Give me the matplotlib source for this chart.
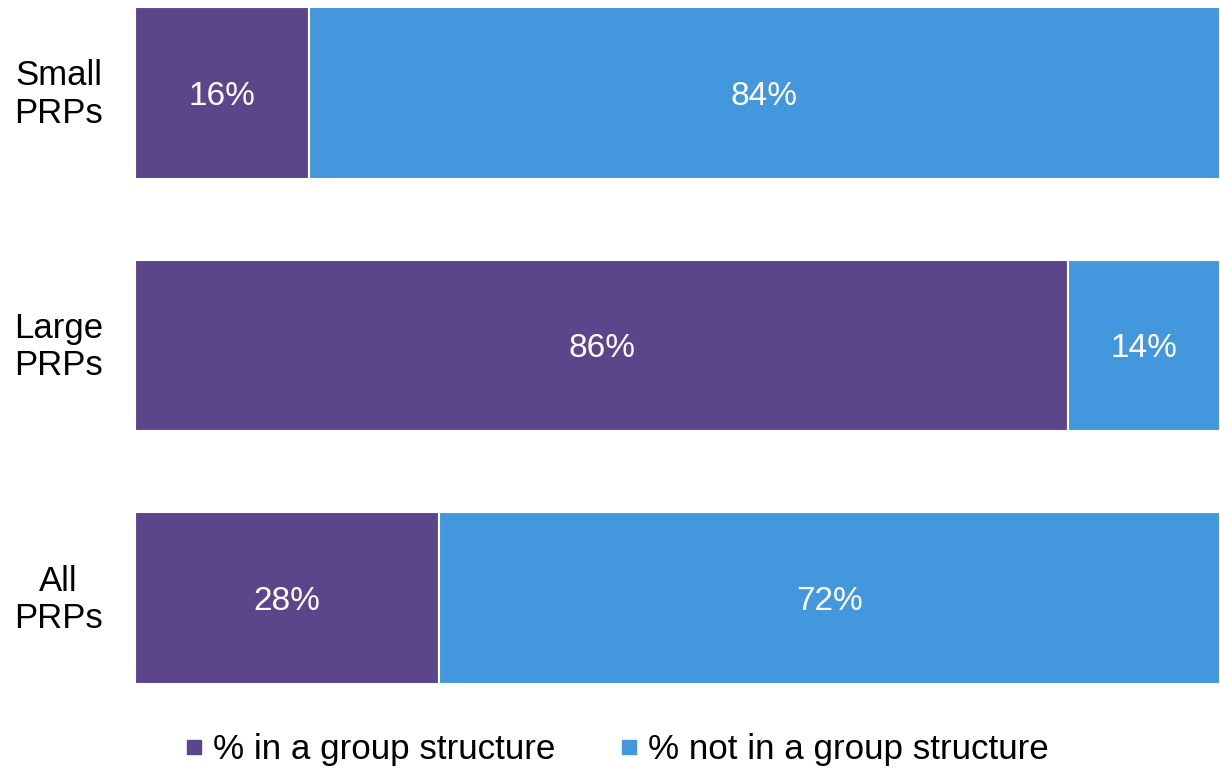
import numpy as np
import matplotlib.pyplot as plt
from matplotlib.lines import Line2D
from matplotlib.transforms import ScaledTranslation

categories = ['Small\nPRPs', 'Large\nPRPs', 'All\nPRPs']
in_group = [16, 86, 28]
not_in_group = [84, 14, 72]
series_names = ['% in a group structure', '% not in a group structure']

purple = '#5C468B'
blue = '#4398DD'

plt.rcParams['font.family'] = ['Liberation Sans', 'DejaVu Sans']

fig = plt.figure(figsize=(12.2, 7.7), dpi=100)
ax = fig.add_axes([135/1220, 1-684/770, 1-135/1220, 677/770])

y = np.arange(len(categories))
h = 0.681
ax.barh(y, in_group, height=h, color=purple, edgecolor='white', linewidth=1.5)
ax.barh(y, not_in_group, left=in_group, height=h, color=blue, edgecolor='white', linewidth=1.5)

for i in range(len(categories)):
    ax.annotate(f'{in_group[i]}%', (in_group[i]/2, y[i]), xytext=(0, -2.5),
                textcoords='offset points', ha='center', va='center',
                color='white', fontsize=24)
    ax.annotate(f'{not_in_group[i]}%', (in_group[i] + not_in_group[i]/2, y[i]),
                xytext=(0, -2.5), textcoords='offset points', ha='center',
                va='center', color='white', fontsize=24)

ax.set_xlim(0, 100)
ax.set_ylim(len(categories) - 1 + h/2, -h/2)
ax.set_yticks(y)
ax.set_yticklabels(categories, fontsize=25, multialignment='center', linespacing=1.16)
ax.tick_params(axis='y', length=0, pad=23)
# labels sit a little above the bar centre in the original
shift = ScaledTranslation(0, 4/100, fig.dpi_scale_trans)
for lab in ax.get_yticklabels():
    lab.set_transform(lab.get_transform() + shift)
ax.set_xticks([])
for s in ax.spines.values():
    s.set_visible(False)

handles = [Line2D([], [], marker='s', linestyle='none', color=purple, markersize=10),
           Line2D([], [], marker='s', linestyle='none', color=blue, markersize=10)]
fig.legend(handles, series_names, loc='center', bbox_to_anchor=(0.505, 0.026), ncol=2,
           frameon=False, fontsize=25.2, handlelength=0.6, handletextpad=0.25,
           columnspacing=1.78)

fig.savefig('out.png', dpi=100)
